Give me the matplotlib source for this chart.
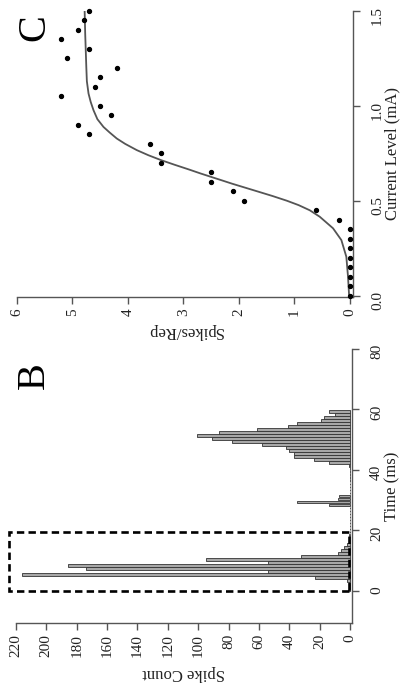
import matplotlib
matplotlib.use("Agg")
import matplotlib.pyplot as plt
from matplotlib.patches import Rectangle

plt.rcParams['font.family'] = ['Liberation Serif', 'DejaVu Serif']

# Panel B: PSTH, 1 ms bins starting at 0 ms
bin_start = list(range(60))
spike_count = [1, 1, 1, 2, 23, 216, 54, 174, 186, 54,
               95, 32, 8, 6, 4, 2, 1, 1, 1, 0,
               0, 0, 0, 0, 0, 0, 0, 0, 14, 35,
               8, 7, 0, 0, 0, 0, 0, 0, 0, 0,
               0, 1, 14, 24, 37, 37, 40, 42, 58, 78,
               91, 101, 86, 61, 41, 35, 19, 17, 10, 14]
time_ticks = [0, 20, 40, 60, 80]
count_ticks = list(range(0, 221, 20))

# Panel C: input/output function
current_ma = [0.00, 0.05, 0.10, 0.15, 0.20, 0.25, 0.30, 0.35, 0.40, 0.45,
              0.50, 0.55, 0.60, 0.65, 0.70, 0.75, 0.80, 0.85, 0.90, 0.95,
              1.00, 1.05, 1.10, 1.15, 1.20, 1.25, 1.30, 1.35, 1.40, 1.45, 1.50]
spikes_rep = [0, 0, 0, 0, 0, 0, 0, 0, 0.2, 0.6,
              1.9, 2.1, 2.5, 2.5, 3.4, 3.4, 3.6, 4.7, 4.9, 4.3,
              4.5, 5.2, 4.6, 4.5, 4.2, 5.1, 4.7, 5.2, 4.9, 4.8, 4.7]
# fitted curve
fit_current = [0.0, 0.10, 0.205, 0.293, 0.355, 0.416, 0.45, 0.477, 0.50, 0.525,
               0.55, 0.574, 0.59, 0.61, 0.625, 0.644, 0.665, 0.69, 0.714, 0.74,
               0.767, 0.80, 0.828, 0.86, 0.889, 0.93, 0.977, 1.02, 1.065, 1.13,
               1.205, 1.38, 1.5]
fit_spikes = [0.01, 0.03, 0.06, 0.15, 0.30, 0.54, 0.72, 0.92, 1.13, 1.39,
              1.67, 1.94, 2.12, 2.33, 2.49, 2.69, 2.90, 3.16, 3.40, 3.63,
              3.84, 4.05, 4.20, 4.33, 4.44, 4.55, 4.62, 4.67, 4.71, 4.74,
              4.75, 4.77, 4.78]
current_ticks = [0.0, 0.5, 1.0, 1.5]
spike_ticks = [0, 1, 2, 3, 4, 5, 6]

W, H = 406, 691
axis_col = '#555555'
text_col = '#222222'

fig = plt.figure(figsize=(W / 100, H / 100), dpi=100)


def px_axes(x0, y0, x1, y1):
    # pixel box (top-left origin) -> figure axes
    return fig.add_axes([x0 / W, 1 - y1 / H, (x1 - x0) / W, (y1 - y0) / H])


def style(ax):
    for s in ['top', 'left']:
        ax.spines[s].set_visible(False)
    for s in ['bottom', 'right']:
        ax.spines[s].set_color(axis_col)
        ax.spines[s].set_linewidth(1.0)
    ax.xaxis.set_ticks_position('bottom')
    ax.yaxis.set_ticks_position('right')
    ax.tick_params(axis='both', direction='out', length=5, width=1.0,
                   color=axis_col, labelcolor=text_col, labelsize=11)
    ax.tick_params(axis='x', labelrotation=90, pad=3)
    ax.tick_params(axis='y', labelrotation=90, pad=8)
    ax.patch.set_alpha(0)


# ---- Panel B (rotated: time runs upward, counts run leftward)
axB = px_axes(16, 349, 352, 623)
axB.barh(bin_start, spike_count, height=0.85, left=0, align='edge',
         color='#a8a8a8', edgecolor='#333333', linewidth=0.6)
axB.set_xlim(220, -1.3)
axB.set_ylim(-10.6, 80)
axB.set_xticks(count_ticks)
axB.set_yticks(time_ticks)
style(axB)
axB.add_patch(Rectangle((0.5, 0), 224, 19.5, fill=False, edgecolor='black',
                        linewidth=1.9, linestyle=(0, (2.8, 1.6)), clip_on=False))

# ---- Panel C
axC = px_axes(17, 11, 353, 297)
axC.plot(fit_spikes, fit_current, color='#555555', linewidth=1.3)
axC.scatter(spikes_rep, current_ma, s=8, color='black', zorder=3, clip_on=False)
axC.set_xlim(6, -0.06)
axC.set_ylim(-0.007, 1.5)
axC.set_xticks(spike_ticks)
axC.set_yticks(current_ticks)
axC.set_yticklabels(['0.0', '0.5', '1.0', '1.5'])
style(axC)

# labels
fig.text(392 / W, 1 - 486 / H, 'Time (ms)', rotation=90, ha='center', va='center',
         fontsize=12, color=text_col)
fig.text(184 / W, 1 - 673 / H, 'Spike Count', rotation=180, ha='center', va='center',
         fontsize=12, color=text_col)
fig.text(392 / W, 1 - 154 / H, 'Current Level (mA)', rotation=90, ha='center',
         va='center', fontsize=12, color=text_col)
fig.text(185 / W, 1 - 331 / H, 'Spikes/Rep', rotation=180, ha='center', va='center',
         fontsize=12, color=text_col)
fig.text(34 / W, 1 - 376 / H, 'B', rotation=90, ha='center', va='center',
         fontsize=29, color='black')
fig.text(35 / W, 1 - 28 / H, 'C', rotation=90, ha='center', va='center',
         fontsize=29, color='black')

fig.savefig('out.png', dpi=100)
